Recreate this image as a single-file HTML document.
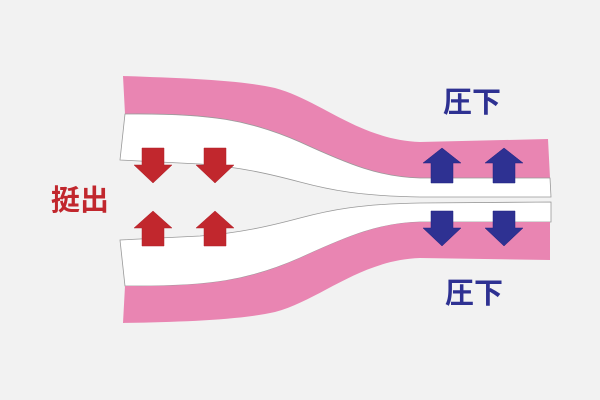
<!DOCTYPE html>
<html><head><meta charset="utf-8"><style>
html,body{margin:0;padding:0;background:#f2f2f2;}
svg{display:block}
text{font-family:"Liberation Sans","Noto Sans CJK JP",sans-serif;font-weight:bold;}
</style></head><body>
<svg width="600" height="400" viewBox="0 0 600 400">
<rect width="600" height="400" fill="#f2f2f2"/>
<!-- top pink band -->
<path d="M123,76 C180,78 240,80 275,88 C320,100 360,140 420,142 L548,139 L550,178 L420,178 C380,177 350,165 300,142 C250,120 210,113 125,114 Z" fill="#e985b2"/>
<!-- top white -->
<path d="M125,114 C210,113 250,120 300,142 C350,165 380,177 420,178 L550,178 L551,197 L420,197 C360,196 330,190 300,182 C270,174 240,167 200,164 L120,160 Z" fill="#fff" stroke="#999" stroke-width="0.8"/>
<!-- bottom white -->
<path d="M120,240 L200,236 C240,233 270,226 300,218 C330,210 360,204 420,203 L551,202 L551,222 L420,222 C380,223 350,235 300,258 C250,280 210,287 125,286 Z" fill="#fff" stroke="#999" stroke-width="0.8"/>
<!-- bottom pink band -->
<path d="M125,286 C210,287 250,280 300,258 C350,235 380,223 420,222 L550,222 L550,260 L420,258 C360,260 320,300 275,312 C240,320 180,322 123,323 Z" fill="#e985b2"/>
<!-- red arrows -->
<g fill="#c1272d" stroke="#b0202a" stroke-width="0.5">
<path d="M142,148 H164 V165 H172 L153,183 L134,165 H142 Z"/>
<path d="M204,148 H226 V165 H234 L215,183 L196,165 H204 Z"/>
<path d="M142,246 H164 V228 H172 L153,211 L134,228 H142 Z"/>
<path d="M204,246 H226 V228 H234 L215,211 L196,228 H204 Z"/>
</g>
<!-- blue arrows -->
<g fill="#2e3192" stroke="#1f2280" stroke-width="0.5">
<path d="M431,183 H453 V163 H461 L442,148 L423,163 H431 Z"/>
<path d="M493,183 H515 V163 H523 L504,148 L485,163 H493 Z"/>
<path d="M431,211 H453 V228 H461 L442,246 L423,228 H431 Z"/>
<path d="M493,211 H515 V228 H523 L504,246 L485,228 H493 Z"/>
</g>
<text x="51" y="210" font-size="29" fill="#c1272d">挺出</text>
<text x="443" y="112" font-size="29" fill="#2e3192">圧下</text>
<text x="445" y="303" font-size="29" fill="#2e3192">圧下</text>
</svg>
</body></html>
